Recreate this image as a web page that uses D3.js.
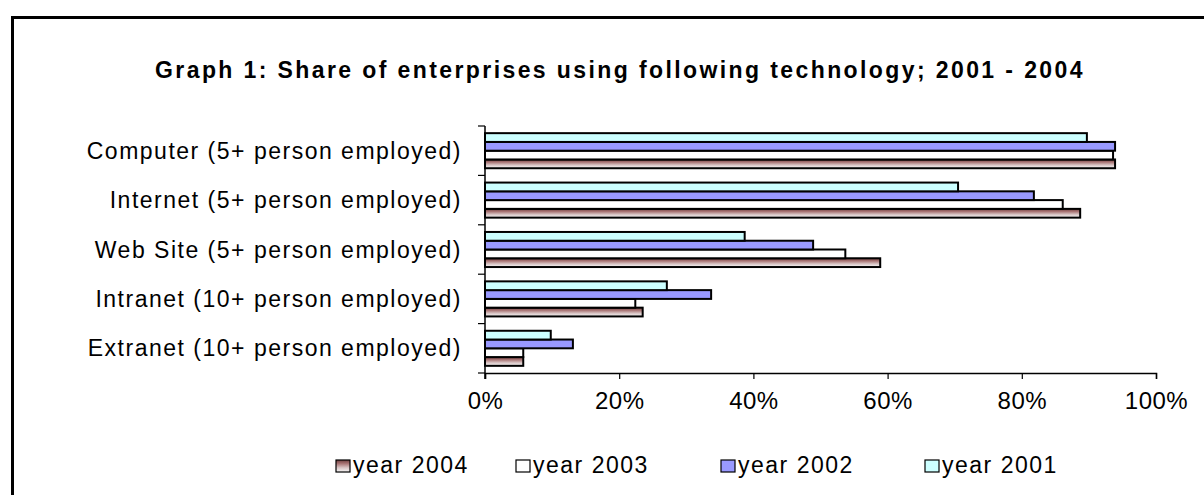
<!DOCTYPE html>
<html>
<head>
<meta charset="utf-8">
<script src="https://cdn.jsdelivr.net/npm/d3@7"></script>
<style>
  html, body { margin: 0; padding: 0; background: #fff; }
  svg { display: block; }
  text { font-family: "Liberation Sans", Arial, sans-serif; fill: #000; }
</style>
</head>
<body>
<svg id="chart" width="1204" height="495"></svg>
<script>
// Technologies shown on the vertical axis (top to bottom)
const categories = [
  "Computer (5+ person employed)",
  "Internet (5+ person employed)",
  "Web Site (5+ person employed)",
  "Intranet (10+ person employed)",
  "Extranet (10+ person employed)"
];

// Share of enterprises per year (fractions)
const year2004 = [0.939, 0.887, 0.589, 0.235, 0.057];
const year2003 = [0.936, 0.861, 0.537, 0.224, 0.057];
const year2002 = [0.939, 0.818, 0.489, 0.337, 0.131];
const year2001 = [0.897, 0.705, 0.387, 0.271, 0.098];

const seriesNames = ["year 2004", "year 2003", "year 2002", "year 2001"];
const xTicks = [0, 0.2, 0.4, 0.6, 0.8, 1.0];

const titleText = "Graph 1: Share of enterprises using following technology; 2001 - 2004";

const series = [
  { name: seriesNames[0], values: year2004, fill: "url(#grad2004)" },
  { name: seriesNames[1], values: year2003, fill: "#ffffff" },
  { name: seriesNames[2], values: year2002, fill: "#9999ff" },
  { name: seriesNames[3], values: year2001, fill: "#ccffff" }
];

const FONT = 23;
const SPACING = "1.5px";

const svg = d3.select("#chart");

// Vertical shading for the 2004 bars
const defs = svg.append("defs");
const g2004 = defs.append("linearGradient")
  .attr("id", "grad2004").attr("x1", 0).attr("y1", 0).attr("x2", 0).attr("y2", 1);
g2004.append("stop").attr("offset", "0%").attr("stop-color", "#6e3e3e");
g2004.append("stop").attr("offset", "30%").attr("stop-color", "#a87474");
g2004.append("stop").attr("offset", "65%").attr("stop-color", "#d9c6c6");
g2004.append("stop").attr("offset", "100%").attr("stop-color", "#f6f6f6");

// Outer frame
svg.append("rect")
  .attr("x", 12.5).attr("y", 17.5)
  .attr("width", 1230).attr("height", 520)
  .attr("fill", "none").attr("stroke", "#000").attr("stroke-width", 3);

// Title
svg.append("text")
  .attr("x", 620).attr("y", 70)
  .attr("dy", "0.35em")
  .attr("text-anchor", "middle")
  .style("font-size", "23px").style("font-weight", "bold")
  .style("letter-spacing", "2.4px")
  .text(titleText);

// Scales
const plot = { left: 485, right: 1156, top: 126, bottom: 373 };
const x = d3.scaleLinear().domain([0, 1]).range([plot.left, plot.right]);
const y0 = d3.scaleBand().domain(categories).range([plot.top, plot.bottom])
  .paddingInner(0.29).paddingOuter(0.145);
// Bars stacked top-to-bottom: 2001, 2002, 2003, 2004
const y1 = d3.scaleBand().domain(seriesNames.slice().reverse()).range([0, y0.bandwidth()]).padding(0);

// Bars
const groups = svg.append("g").selectAll("g")
  .data(categories)
  .join("g")
  .attr("transform", d => `translate(0,${y0(d)})`);

groups.selectAll("rect")
  .data((c, i) => series.map(s => ({ name: s.name, value: s.values[i], fill: s.fill })))
  .join("rect")
  .attr("x", x(0))
  .attr("y", d => y1(d.name))
  .attr("width", d => x(d.value) - x(0))
  .attr("height", y1.bandwidth())
  .attr("fill", d => d.fill)
  .attr("stroke", "#000")
  .attr("stroke-width", 2);

// X axis
const xAxis = d3.axisBottom(x).tickValues(xTicks).tickFormat(d3.format(".0%")).tickSize(6).tickPadding(22);
const gx = svg.append("g").attr("transform", `translate(0,${plot.bottom})`).call(xAxis);
gx.select(".domain").attr("stroke", "#000").attr("stroke-width", 1.5);
gx.selectAll(".tick line").attr("stroke", "#000").attr("stroke-width", 1.2);
gx.selectAll(".tick text")
  .attr("dy", "0.35em")
  .style("font-size", "24px")
  .style("letter-spacing", "0.5px")
  .style("font-family", "Liberation Sans, Arial, sans-serif");

// Y axis line with ticks at category boundaries
svg.append("line")
  .attr("x1", x(0)).attr("x2", x(0))
  .attr("y1", plot.top).attr("y2", plot.bottom + 6)
  .attr("stroke", "#000").attr("stroke-width", 1.5);
const boundaries = d3.range(categories.length + 1).map(i => plot.top + i * y0.step());
svg.append("g").selectAll("line")
  .data(boundaries)
  .join("line")
  .attr("x1", x(0) - 7).attr("x2", x(0))
  .attr("y1", d => d).attr("y2", d => d)
  .attr("stroke", "#000").attr("stroke-width", 1.2);

// Category labels
svg.append("g").selectAll("text")
  .data(categories)
  .join("text")
  .attr("x", 462)
  .attr("y", d => y0(d) + y0.bandwidth() / 2)
  .attr("dy", "0.35em")
  .attr("text-anchor", "end")
  .style("font-size", FONT + "px")
  .style("letter-spacing", SPACING)
  .text(d => d);

// Legend
const legendX = [336, 516, 721, 925];
const legend = svg.append("g").selectAll("g")
  .data(series)
  .join("g")
  .attr("transform", (d, i) => `translate(${legendX[i]},460)`);
legend.append("rect")
  .attr("width", 14).attr("height", 12)
  .attr("fill", d => d.fill)
  .attr("stroke", "#000").attr("stroke-width", 1.2);
legend.append("text")
  .attr("x", 17).attr("y", 5).attr("dy", "0.35em")
  .style("font-size", FONT + "px")
  .style("letter-spacing", SPACING)
  .text(d => d.name);
</script>
</body>
</html>
